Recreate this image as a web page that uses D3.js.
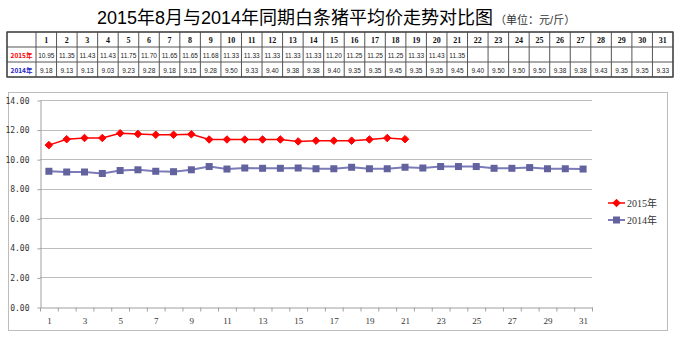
<!DOCTYPE html>
<html><head><meta charset="utf-8">
<script src="https://cdn.jsdelivr.net/npm/d3@7/dist/d3.min.js"></script>
<style>body{margin:0;background:#fff;} svg{display:block;}</style>
</head><body>
<svg id="c" width="680" height="339"></svg>
<script>
const days = d3.range(1, 32).map(String);
const series2015 = [10.95, 11.35, 11.43, 11.43, 11.75, 11.70, 11.65, 11.65, 11.68, 11.33, 11.33, 11.33, 11.33, 11.33, 11.20, 11.25, 11.25, 11.25, 11.33, 11.43, 11.35];
const series2014 = [9.18, 9.13, 9.13, 9.03, 9.23, 9.28, 9.18, 9.15, 9.28, 9.50, 9.33, 9.40, 9.38, 9.38, 9.40, 9.35, 9.35, 9.45, 9.35, 9.35, 9.45, 9.40, 9.50, 9.50, 9.50, 9.38, 9.38, 9.43, 9.35, 9.35, 9.33];
const seriesNames = ["2015年", "2014年"];
const yTicks = [0, 2, 4, 6, 8, 10, 12, 14];
const titleText = "2015年8月与2014年同期白条猪平均价走势对比图";
const unitText = "（单位：元/斤）";

const svg = d3.select("#c");
const red = "#ff0000", purpLine = "#7b7bb9", purpMark = "#62629e";

// Title
const t = svg.append("text").attr("x", 97).attr("y", 24)
  .attr("font-family", "'Liberation Sans','Noto Sans CJK SC',sans-serif").attr("font-size", 18).attr("fill", "#000");
t.append("tspan").text(titleText);
t.append("tspan").attr("font-size", 11).attr("fill", "#333").attr("dx", 2).text(unitText);

// Table
const tx0 = 7, tc0 = 36, tx1 = 673, ty0 = 32, rh = 15;
const colX = d3.scaleBand().domain(days).range([tc0, tx1]);
const tg = svg.append("g");
// grid lines
const rowsY = [ty0, ty0 + rh, ty0 + 2 * rh, ty0 + 3 * rh];
rowsY.forEach(y => tg.append("line").attr("x1", tx0).attr("x2", tx1).attr("y1", y).attr("y2", y).attr("stroke", "#555").attr("stroke-width", 1));
[tx0, tc0].concat(days.map(d => colX(d) + colX.bandwidth())).forEach(x =>
  tg.append("line").attr("x1", x).attr("x2", x).attr("y1", ty0).attr("y2", ty0 + 3 * rh).attr("stroke", "#555").attr("stroke-width", 1));
tg.append("rect").attr("x", tx0).attr("y", ty0).attr("width", tx1 - tx0).attr("height", 3 * rh).attr("fill", "none").attr("stroke", "#444").attr("stroke-width", 1.3);
// header
days.forEach(d => tg.append("text").attr("x", colX(d) + colX.bandwidth() / 2).attr("y", ty0 + 11)
  .attr("text-anchor", "middle").attr("font-family", "'Liberation Serif',serif").attr("font-weight", "bold").attr("font-size", 8).attr("fill", "#111").text(d));
// row labels
tg.append("text").attr("x", (tx0 + tc0) / 2).attr("y", ty0 + rh + 10.5).attr("text-anchor", "middle")
  .attr("font-family", "'Noto Sans CJK SC',sans-serif").attr("font-size", 6.5).attr("font-weight", "bold").attr("fill", "#ff0000").text(seriesNames[0]);
tg.append("text").attr("x", (tx0 + tc0) / 2).attr("y", ty0 + 2 * rh + 10.5).attr("text-anchor", "middle")
  .attr("font-family", "'Noto Sans CJK SC',sans-serif").attr("font-size", 6.5).attr("font-weight", "bold").attr("fill", "#2222cc").text(seriesNames[1]);
series2015.forEach((v, i) => tg.append("text").attr("x", colX(days[i]) + colX.bandwidth() / 2).attr("y", ty0 + rh + 10.5)
  .attr("text-anchor", "middle").attr("font-family", "'Liberation Sans',sans-serif").attr("font-size", 6.5).attr("fill", "#222").text(v.toFixed(2)));
series2014.forEach((v, i) => tg.append("text").attr("x", colX(days[i]) + colX.bandwidth() / 2).attr("y", ty0 + 2 * rh + 10.5)
  .attr("text-anchor", "middle").attr("font-family", "'Liberation Sans',sans-serif").attr("font-size", 6.5).attr("fill", "#222").text(v.toFixed(2)));

// Chart frame
svg.append("rect").attr("x", 8.5).attr("y", 92.5).attr("width", 659).attr("height", 238).attr("fill", "#fff").attr("stroke", "#bdbdbd").attr("stroke-width", 1);

const pl = 40, pr = 592, pt = 100, pb = 307;
const x = d3.scaleBand().domain(days).range([pl, pr]);
const y = d3.scaleLinear().domain([0, 14]).range([pb, pt]);

// grid
svg.append("g").selectAll("line").data(yTicks.filter(v => v > 0)).join("line")
  .attr("x1", pl).attr("x2", pr).attr("y1", d => Math.round(y(d)) + 0.5).attr("y2", d => Math.round(y(d)) + 0.5)
  .attr("stroke", "#bdbdbd").attr("stroke-width", 1);

// y axis
const ya = svg.append("g").attr("transform", `translate(${pl + 0.5},0.5)`)
  .call(d3.axisLeft(y).tickValues(yTicks).tickFormat(d3.format(".2f")).tickSizeOuter(0).tickSizeInner(3).tickPadding(8));
ya.select(".domain").attr("stroke", "#a0a0a0");
ya.selectAll(".tick line").attr("stroke", "#a0a0a0");
ya.selectAll("text").attr("font-family", "'DejaVu Sans Mono',monospace").attr("font-size", 8).attr("fill", "#333");

// x axis
const xa = svg.append("g").attr("transform", `translate(0.5,${pb + 0.5})`)
  .call(d3.axisBottom(x).tickValues([]).tickSizeOuter(0));
xa.select(".domain").attr("stroke", "#a0a0a0");
xa.selectAll("line.bnd").data(days.concat(["end"])).join("line").attr("class", "bnd")
  .attr("x1", d => d === "end" ? pr : x(d)).attr("x2", d => d === "end" ? pr : x(d))
  .attr("y1", 0).attr("y2", 4).attr("stroke", "#a0a0a0");
xa.selectAll("text.lab").data(days.filter((d, i) => i % 2 === 0)).join("text").attr("class", "lab")
  .attr("x", d => x(d) + x.bandwidth() / 2).attr("y", 16).attr("text-anchor", "middle")
  .attr("font-family", "'Liberation Serif',serif").attr("font-size", 9).attr("fill", "#333").text(d => d);

// lines
const line = d3.line().x((d, i) => x(days[i]) + x.bandwidth() / 2).y(d => y(d));
svg.append("path").datum(series2014).attr("d", line).attr("fill", "none").attr("stroke", purpLine).attr("stroke-width", 2);
svg.append("g").selectAll("rect").data(series2014).join("rect")
  .attr("x", (d, i) => x(days[i]) + x.bandwidth() / 2 - 3.5).attr("y", d => y(d) - 3.5)
  .attr("width", 7).attr("height", 7).attr("fill", purpMark);
svg.append("path").datum(series2015).attr("d", line).attr("fill", "none").attr("stroke", red).attr("stroke-width", 1.5);
const diamond = d3.symbol().type(d3.symbolDiamond2).size(36);
svg.append("g").selectAll("path").data(series2015).join("path")
  .attr("transform", (d, i) => `translate(${x(days[i]) + x.bandwidth() / 2},${y(d)})`)
  .attr("d", diamond).attr("fill", red).attr("stroke", red).attr("stroke-width", 1);

// legend
const lg = svg.append("g");
const ly = [203, 220];
lg.append("line").attr("x1", 608).attr("x2", 625).attr("y1", ly[0]).attr("y2", ly[0]).attr("stroke", red).attr("stroke-width", 1.5);
lg.append("path").attr("transform", `translate(616.5,${ly[0]})`).attr("d", diamond).attr("fill", red).attr("stroke", red);
lg.append("line").attr("x1", 608).attr("x2", 625).attr("y1", ly[1]).attr("y2", ly[1]).attr("stroke", purpLine).attr("stroke-width", 2);
lg.append("rect").attr("x", 613).attr("y", ly[1] - 3.5).attr("width", 7).attr("height", 7).attr("fill", purpMark);
seriesNames.forEach((n, i) => lg.append("text").attr("x", 627).attr("y", ly[i] + 4).attr("font-family", "'Liberation Serif','Noto Sans CJK SC',serif")
  .attr("font-size", 10).attr("fill", "#333").text(n));
</script>
</body></html>
